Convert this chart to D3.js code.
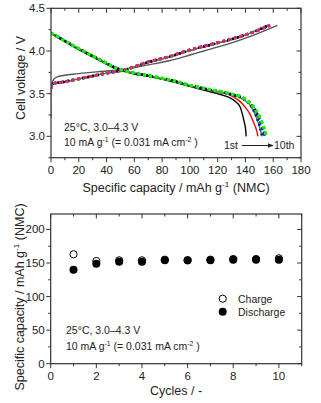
<!DOCTYPE html>
<html><head><meta charset="utf-8">
<script src="https://cdn.jsdelivr.net/npm/d3@7"></script>
<style>body{margin:0;background:#fff}svg{display:block}text{font-family:"Liberation Sans",Arial,sans-serif;fill:#222}</style>
</head><body><svg id="c" width="321" height="403"></svg>
<script>
// ---- Data: top chart (capacity mAh/g, voltage V) ----
const cycleNames = ["1st","2nd","3rd","4th","5th","6th","7th","8th","9th","10th"];
const charge1 = [[0,3.22],[0.4,3.6],[2,3.67],[5,3.7],[20,3.735],[40,3.765],[53,3.786],[71,3.84],[85,3.885],[100,3.953],[110,4.0],[129,4.09],[145,4.18],[163,4.3]];
const charge2 = [[0,3.56],[1,3.61],[10,3.64],[25,3.69],[40,3.74],[53,3.78],[71,3.87],[85,3.93],[100,4.005],[115,4.07],[129,4.13],[142,4.2],[153,4.28],[155,4.3]];
const charge3 = [[0,3.56],[1,3.61],[10,3.64],[25,3.69],[40,3.74],[53,3.78],[71,3.87],[85,3.93],[100,4.008],[115,4.072],[129,4.132],[142,4.2],[154,4.28],[156,4.3]];
const charge4 = [[0,3.56],[1,3.61],[10,3.64],[25,3.69],[40,3.74],[53,3.78],[71,3.872],[85,3.93],[100,4.01],[115,4.073],[129,4.133],[142,4.2],[154,4.28],[156,4.3]];
const charge5 = [[0,3.56],[1,3.61],[10,3.64],[25,3.69],[40,3.74],[53,3.78],[71,3.874],[85,3.932],[100,4.01],[115,4.074],[129,4.134],[142,4.2],[155,4.285],[157,4.3]];
const charge6 = [[0,3.56],[1,3.61],[10,3.64],[25,3.69],[40,3.74],[53,3.78],[71,3.875],[85,3.933],[100,4.012],[115,4.075],[129,4.135],[142,4.2],[155,4.285],[157,4.3]];
const charge7 = [[0,3.56],[1,3.61],[10,3.64],[25,3.69],[40,3.74],[53,3.78],[71,3.875],[85,3.933],[100,4.012],[115,4.075],[129,4.135],[142,4.2],[155,4.285],[157,4.3]];
const charge8 = [[0,3.56],[1,3.61],[10,3.64],[25,3.69],[40,3.74],[53,3.78],[71,3.876],[85,3.934],[100,4.013],[115,4.076],[129,4.136],[142,4.2],[155,4.28],[157.5,4.3]];
const charge9 = [[0,3.56],[1,3.61],[10,3.64],[25,3.69],[40,3.74],[53,3.78],[71,3.876],[85,3.934],[100,4.013],[115,4.076],[129,4.136],[142,4.2],[155,4.28],[157.5,4.3]];
const charge10 = [[0,3.56],[1,3.61],[10,3.64],[25,3.69],[40,3.74],[53,3.78],[71,3.877],[85,3.935],[100,4.014],[115,4.077],[129,4.137],[142,4.2],[155,4.28],[158,4.3]];
const discharge1 = [[0,4.21],[12,4.09],[23,3.99],[35,3.89],[47,3.79],[60,3.73],[71,3.70],[90,3.63],[100,3.585],[114,3.525],[122,3.49],[129,3.45],[134,3.39],[136,3.35],[138.4,3.22],[140,3.1],[140.5,3.0]];
const discharge2 = [[0,4.21],[12,4.1],[23,4.0],[35,3.9],[47,3.8],[60,3.74],[71,3.705],[90,3.64],[100,3.595],[114,3.54],[122,3.515],[130,3.475],[136,3.41],[140,3.34],[143,3.27],[145.7,3.17],[148,3.07],[149,3.0]];
const discharge3 = [[0,4.21],[12,4.1],[23,4.0],[35,3.9],[47,3.8],[60,3.74],[71,3.707],[90,3.64],[100,3.595],[114,3.545],[122,3.52],[130,3.49],[136,3.455],[142,3.39],[146,3.29],[149,3.17],[151,3.06],[151.8,3.0]];
const discharge4 = [[0,4.21],[12,4.1],[23,4.0],[35,3.9],[47,3.8],[60,3.74],[71,3.707],[90,3.64],[100,3.595],[114,3.545],[122,3.52],[130,3.49],[136,3.46],[142,3.395],[146,3.3],[149,3.18],[151,3.07],[152,3.0]];
const discharge5 = [[0,4.21],[12,4.1],[23,4.0],[35,3.9],[47,3.8],[60,3.74],[71,3.708],[90,3.642],[100,3.597],[114,3.547],[122,3.522],[130,3.492],[136,3.465],[143,3.39],[148,3.28],[151,3.16],[153,3.06],[154,3.0]];
const discharge6 = [[0,4.21],[12,4.1],[23,4.0],[35,3.9],[47,3.8],[60,3.74],[71,3.708],[90,3.642],[100,3.597],[114,3.547],[122,3.522],[130,3.492],[136,3.465],[143,3.39],[148,3.28],[151,3.16],[153,3.06],[154,3.0]];
const discharge7 = [[0,4.21],[12,4.1],[23,4.0],[35,3.9],[47,3.8],[60,3.74],[71,3.708],[90,3.643],[100,3.598],[114,3.548],[122,3.523],[130,3.493],[136,3.466],[143,3.392],[148,3.285],[151,3.165],[153,3.06],[154.2,3.0]];
const discharge8 = [[0,4.21],[12,4.1],[23,4.0],[35,3.9],[47,3.8],[60,3.74],[71,3.709],[90,3.644],[100,3.6],[114,3.55],[122,3.525],[130,3.495],[136,3.468],[143,3.395],[148,3.29],[152,3.16],[154,3.06],[155,3.0]];
const discharge9 = [[0,4.21],[12,4.1],[23,4.0],[35,3.9],[47,3.8],[60,3.74],[71,3.709],[90,3.644],[100,3.6],[114,3.55],[122,3.525],[130,3.495],[136,3.468],[143,3.395],[148,3.29],[152,3.16],[154,3.06],[155,3.0]];
const discharge10 = [[0,4.21],[12,4.1],[23,4.0],[35,3.9],[47,3.8],[60,3.74],[71,3.71],[90,3.645],[100,3.6],[114,3.55],[122,3.526],[130,3.496],[136,3.47],[143,3.397],[148,3.295],[152,3.165],[154.3,3.06],[155.3,3.0]];
const chargeCurves = [charge1,charge2,charge3,charge4,charge5,charge6,charge7,charge8,charge9,charge10];
const dischargeCurves = [discharge1,discharge2,discharge3,discharge4,discharge5,discharge6,discharge7,discharge8,discharge9,discharge10];
const xTicksTop = [0,20,40,60,80,100,120,140,160,180];
const yTicksTop = [3.0,3.5,4.0,4.5];

// ---- Data: bottom chart ----
const cycles = [1,2,3,4,5,6,7,8,9,10];
const chargeCap = [163,153,154,154,155,154,155,156,156,157];
const dischargeCap = [140,149,152,152,154,154,154,155,155,155];
const xTicksBot = [0,2,4,6,8,10];
const yTicksBot = [0,50,100,150,200];

// ---- styles per cycle ----
const chStyle = [
 {c:"#555",w:1.4,d:null},{c:"#ff0000",w:1.4,d:null},{c:"#00b000",w:1.4,d:null},
 {c:"#0000ff",w:2.5,d:"2,3"},{c:"#000",w:2.5,d:"2,3"},{c:"#00ee00",w:3,d:"3,3"},
 {c:"#0000ff",w:2.5,d:"3,3"},{c:"#00ff00",w:3,d:"3,3"},{c:"#ff0060",w:2.5,d:"3,3"},{c:"#ff1493",w:2.8,d:"3,3"}];
const dcStyle = [
 {c:"#000",w:1.4,d:null},{c:"#ff0000",w:1.4,d:null},{c:"#00b000",w:1.4,d:null},
 {c:"#0000ff",w:2.5,d:"2,3"},{c:"#000",w:2.5,d:"2,3"},{c:"#ff0060",w:2.5,d:"3,3"},
 {c:"#0000ff",w:2.5,d:"3,3"},{c:"#ff1493",w:2.5,d:"3,3"},{c:"#00ee00",w:3,d:"3,3"},{c:"#00ff00",w:3,d:"3,3"}];

const svg = d3.select("#c");
const axisColor = "#333";

function frame(g, x, y, xTicks, yTicks, xMinor, yMinor, xFmt, yFmt){
  const [x0,x1] = x.range(), [y0,y1] = y.range();
  g.append("rect").attr("x",x0).attr("y",y1).attr("width",x1-x0).attr("height",y0-y1)
   .attr("fill","none").attr("stroke",axisColor).attr("stroke-width",1.2);
  const tk = g.append("g").attr("stroke",axisColor).attr("stroke-width",1);
  xMinor.forEach(v=>{const p=x(v);
    tk.append("line").attr("x1",p).attr("x2",p).attr("y1",y0).attr("y2",y0+2.5);
    tk.append("line").attr("x1",p).attr("x2",p).attr("y1",y1).attr("y2",y1+2.5);});
  xTicks.forEach(v=>{const p=x(v);
    tk.append("line").attr("x1",p).attr("x2",p).attr("y1",y0).attr("y2",y0+4.5);
    tk.append("line").attr("x1",p).attr("x2",p).attr("y1",y1).attr("y2",y1+4.5);
    g.append("text").attr("x",p).attr("y",y0+16).attr("text-anchor","middle").attr("font-size",11.5).text(xFmt(v));});
  yMinor.forEach(v=>{const p=y(v);
    tk.append("line").attr("y1",p).attr("y2",p).attr("x1",x0).attr("x2",x0-2.5);
    tk.append("line").attr("y1",p).attr("y2",p).attr("x1",x1).attr("x2",x1-2.5);});
  yTicks.forEach(v=>{const p=y(v);
    tk.append("line").attr("y1",p).attr("y2",p).attr("x1",x0).attr("x2",x0-4.5);
    tk.append("line").attr("y1",p).attr("y2",p).attr("x1",x1).attr("x2",x1-4.5);
    g.append("text").attr("x",x0-6).attr("y",p+4).attr("text-anchor","end").attr("font-size",11.5).text(yFmt(v));});
}

function supText(sel, parts, size){
  parts.forEach(p=>{
    if(p.sup){ sel.append("tspan").attr("font-size",size*0.65).attr("dy",-size*0.38).text(p.t);
               sel.append("tspan").attr("font-size",size).attr("dy",size*0.38).text("\u00A0"); }
    else sel.append("tspan").attr("font-size",size).text(p.t);
  });
}

// ---- Top chart ----
const xT = d3.scaleLinear().domain([0,180]).range([51,301]);
const yT = d3.scaleLinear().domain([2.75,4.5]).range([157.7,8.3]);
const gT = svg.append("g");
const clip = svg.append("defs").append("clipPath").attr("id","clipT").append("rect")
  .attr("x",51).attr("y",8.3).attr("width",250).attr("height",149.4);
const lineD = d3.line().x(d=>xT(d[0])).y(d=>yT(d[1])).curve(d3.curveCatmullRom.alpha(0.5));
const curves = gT.append("g").attr("clip-path","url(#clipT)");
chargeCurves.forEach((cv,i)=>{
  const s = chStyle[i];
  curves.append("path").datum(cv).attr("d",lineD).attr("fill","none").attr("stroke",s.c)
    .attr("stroke-width",s.w).attr("stroke-dasharray",s.d);
});
dischargeCurves.forEach((cv,i)=>{
  const s = dcStyle[i];
  curves.append("path").datum(cv).attr("d",lineD).attr("fill","none").attr("stroke",s.c)
    .attr("stroke-width",s.w).attr("stroke-dasharray",s.d);
});
frame(gT, xT, yT, xTicksTop, yTicksTop, d3.range(10,180,20), [2.75,3.25,3.75,4.25], d=>d, d=>d.toFixed(1));

gT.append("text").attr("x",64).attr("y",131).attr("font-size",10.5).text("25\u00B0C, 3.0\u20134.3 V");
supText(gT.append("text").attr("x",64).attr("y",146), [{t:"10 mA g"},{t:"-1",sup:true},{t:"(= 0.031 mA cm"},{t:"-2",sup:true},{t:")"}], 10.5);
gT.append("text").attr("x",224).attr("y",149).attr("font-size",10.5).text("1st");
gT.append("text").attr("x",274).attr("y",149).attr("font-size",10.5).text("10th");
svg.append("defs").append("marker").attr("id","arr").attr("viewBox","0 0 10 10").attr("refX",9).attr("refY",5)
  .attr("markerWidth",6).attr("markerHeight",6).attr("orient","auto")
  .append("path").attr("d","M0,1 L10,5 L0,9 Z").attr("fill","#222");
gT.append("line").attr("x1",242).attr("x2",273).attr("y1",145.5).attr("y2",145.5)
  .attr("stroke","#222").attr("stroke-width",1).attr("marker-end","url(#arr)");
supText(gT.append("text").attr("x",176).attr("y",192).attr("text-anchor","middle"),
  [{t:"Specific capacity / mAh g"},{t:"-1",sup:true},{t:"(NMC)"}], 12.5);
gT.append("text").attr("transform","translate(25,78) rotate(-90)").attr("text-anchor","middle")
  .attr("font-size",12.5).text("Cell voltage / V");

// ---- Bottom chart ----
const xB = d3.scaleLinear().domain([0,11]).range([50.7,301.7]);
const yB = d3.scaleLinear().domain([0,223]).range([363.7,214]);
const gB = svg.append("g");
gB.selectAll("circle.dc").data(cycles).join("circle").attr("class","dc")
  .attr("cx",d=>xB(d)).attr("cy",(d,i)=>yB(dischargeCap[i])).attr("r",4).attr("fill","#000");
gB.selectAll("circle.ch").data(cycles).join("circle").attr("class","ch")
  .attr("cx",d=>xB(d)).attr("cy",(d,i)=>yB(chargeCap[i])).attr("r",3.6).attr("fill","none")
  .attr("stroke","#000").attr("stroke-width",1);
frame(gB, xB, yB, xTicksBot, yTicksBot, [1,3,5,7,9,11], [25,75,125,175], d=>d, d=>d);

gB.append("circle").attr("cx",222.7).attr("cy",298.7).attr("r",3.6).attr("fill","#fff").attr("stroke","#000");
gB.append("circle").attr("cx",222.7).attr("cy",311.7).attr("r",4).attr("fill","#000");
gB.append("text").attr("x",238).attr("y",302.5).attr("font-size",10.5).text("Charge");
gB.append("text").attr("x",238).attr("y",315.5).attr("font-size",10.5).text("Discharge");
gB.append("text").attr("x",66).attr("y",334).attr("font-size",10.5).text("25\u00B0C, 3.0\u20134.3 V");
supText(gB.append("text").attr("x",66).attr("y",350), [{t:"10 mA g"},{t:"-1",sup:true},{t:"(= 0.031 mA cm"},{t:"-2",sup:true},{t:")"}], 10.5);
gB.append("text").attr("x",176).attr("y",395).attr("text-anchor","middle").attr("font-size",12.5).text("Cycles / -");
supText(gB.append("text").attr("transform","translate(24,297) rotate(-90)").attr("text-anchor","middle"),
  [{t:"Specific capacity / mAh g"},{t:"-1",sup:true},{t:"(NMC)"}], 12.5);
</script></body></html>
